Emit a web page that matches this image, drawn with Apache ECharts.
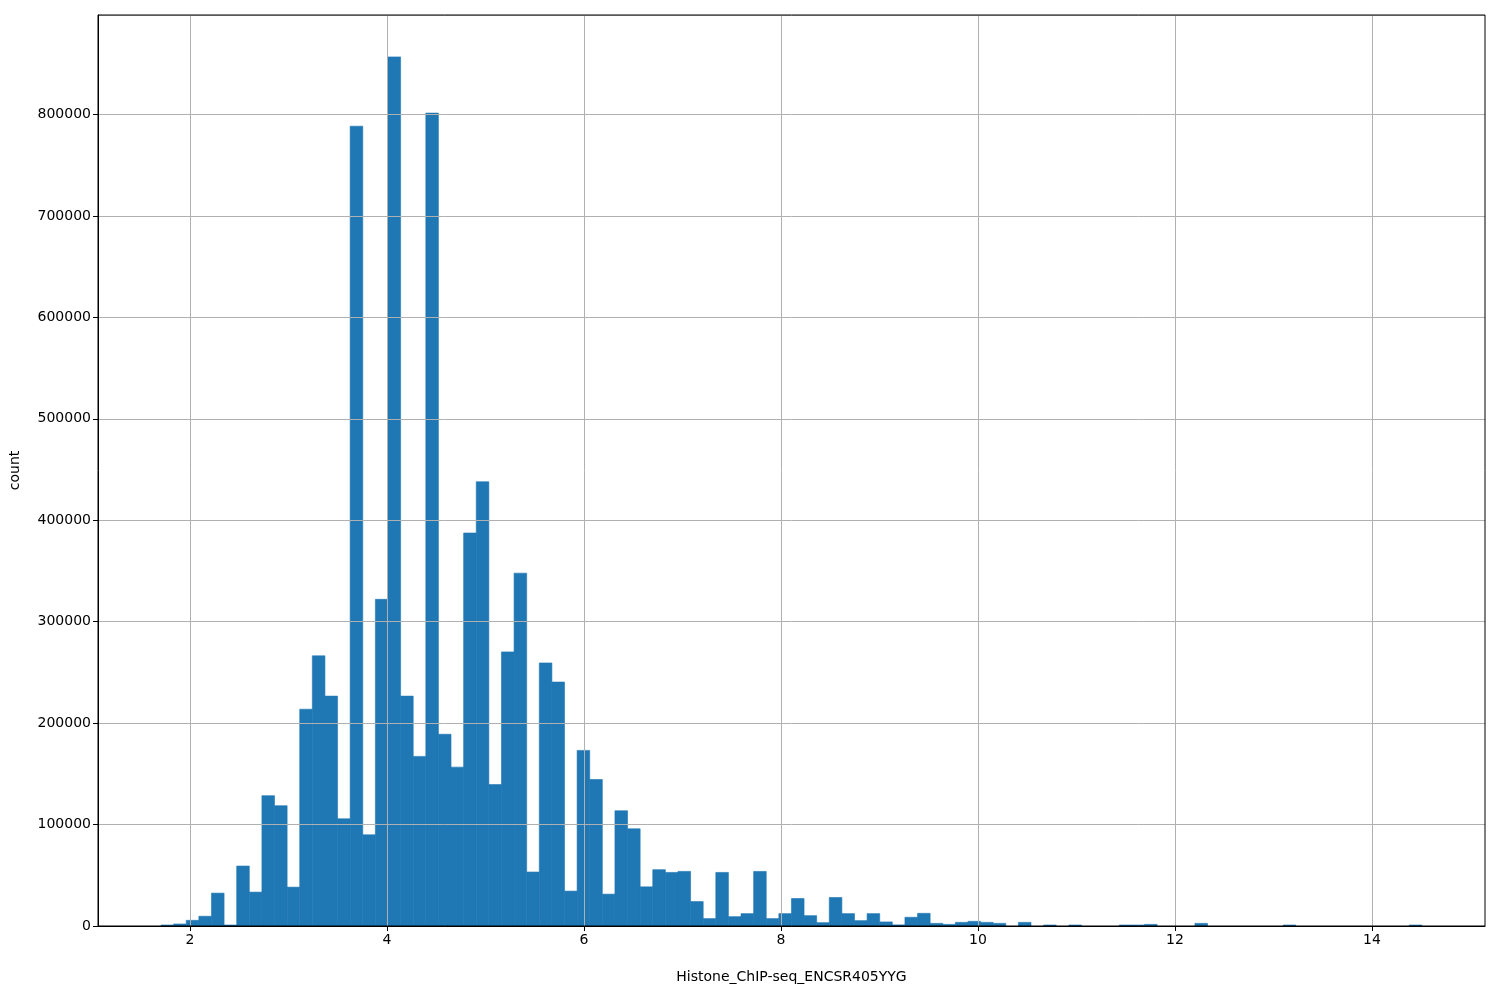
<!DOCTYPE html>
<html>
<head>
<meta charset="utf-8">
<script src="https://cdn.jsdelivr.net/npm/echarts@6/dist/echarts.min.js"></script>
<style>html,body{margin:0;padding:0;background:#fff}#c{width:1500px;height:1000px}</style>
</head>
<body>
<div id="c"></div>
<script>
// Histogram bins (100 bins of equal width)
const binStart = 1.706;
const binWidth = 0.128;
const counts = [
  1000, 2000, 5600, 9600, 32400, 1000, 59100, 33400, 128500, 118600,
  38300, 213700, 266300, 226600, 105700, 788400, 89900, 322000, 856700, 226600,
  167200, 801300, 189000, 156600, 387400, 437900, 139400, 270200, 347800, 53200,
  259300, 240500, 34400, 173100, 144400, 31400, 113600, 95800, 38600, 55500,
  52800, 53800, 24100, 7300, 52800, 9200, 12200, 53800, 7300, 12200,
  27100, 10200, 3300, 28100, 12200, 5300, 12200, 4000, 1100, 8600,
  12500, 2600, 1600, 3600, 4600, 3600, 2600, 0, 3600, 0,
  700, 0, 700, 0, 0, 0, 700, 700, 1600, 0,
  0, 0, 2600, 0, 0, 0, 0, 0, 0, 700,
  0, 0, 0, 0, 0, 0, 0, 0, 0, 700
];
const xTicks = [2, 4, 6, 8, 10, 12, 14];
const xName = 'Histone_ChIP-seq_ENCSR405YYG';
const yName = 'count';

const data = counts.map((c, i) => [binStart + i * binWidth, binStart + (i + 1) * binWidth, c]);

const chart = echarts.init(document.getElementById('c'), null, {renderer: 'canvas'});
const font = 'DejaVu Sans';
chart.setOption({
  animation: false,
  backgroundColor: '#fff',
  grid: {left: 98, right: 15, top: 15, bottom: 74, show: true, borderColor: '#000', borderWidth: 1, backgroundColor: 'transparent', z: 6},
  xAxis: {
    type: 'value', min: 1.066, max: 15.147, splitNumber: 7, z: 5,
    name: xName, nameLocation: 'middle', nameGap: 44,
    nameTextStyle: {fontFamily: font, fontSize: 14, color: '#000'},
    axisLine: {show: true, lineStyle: {color: '#000', width: 1}},
    axisTick: {show: true, length: 5, lineStyle: {color: '#000'}, customValues: xTicks},
    axisLabel: {fontFamily: font, fontSize: 14, color: '#000', margin: 7, customValues: xTicks},
    splitLine: {show: true, lineStyle: {color: '#b0b0b0', width: 1}}
  },
  yAxis: {
    type: 'value', min: 0, max: 898000, interval: 100000, z: 5,
    name: yName, nameLocation: 'middle', nameGap: 76, nameRotate: 90,
    nameTextStyle: {fontFamily: font, fontSize: 14, color: '#000'},
    axisLine: {show: true, lineStyle: {color: '#000', width: 1}},
    axisTick: {show: true, length: 5, lineStyle: {color: '#000'}},
    axisLabel: {fontFamily: font, fontSize: 14, color: '#000', margin: 7, showMaxLabel: false,
      formatter: function (v) { return String(Math.round(v)); }},
    splitLine: {show: true, lineStyle: {color: '#b0b0b0', width: 1}}
  },
  series: [{
    type: 'custom',
    data: data,
    encode: {x: [0, 1], y: 2},
    z: 1,
    renderItem: function (params, api) {
      const v = api.value(2);
      if (!(v > 0)) return null;
      const p0 = api.coord([api.value(0), 0]);
      const p1 = api.coord([api.value(1), v]);
      const h = Math.max(p0[1] - p1[1], 1);
      return {
        type: 'rect',
        shape: {x: p0[0], y: p0[1] - h, width: p1[0] - p0[0], height: h},
        style: {fill: '#1f77b4', stroke: '#1f77b4', lineWidth: 0.6}
      };
    }
  }]
});
</script>
</body>
</html>
